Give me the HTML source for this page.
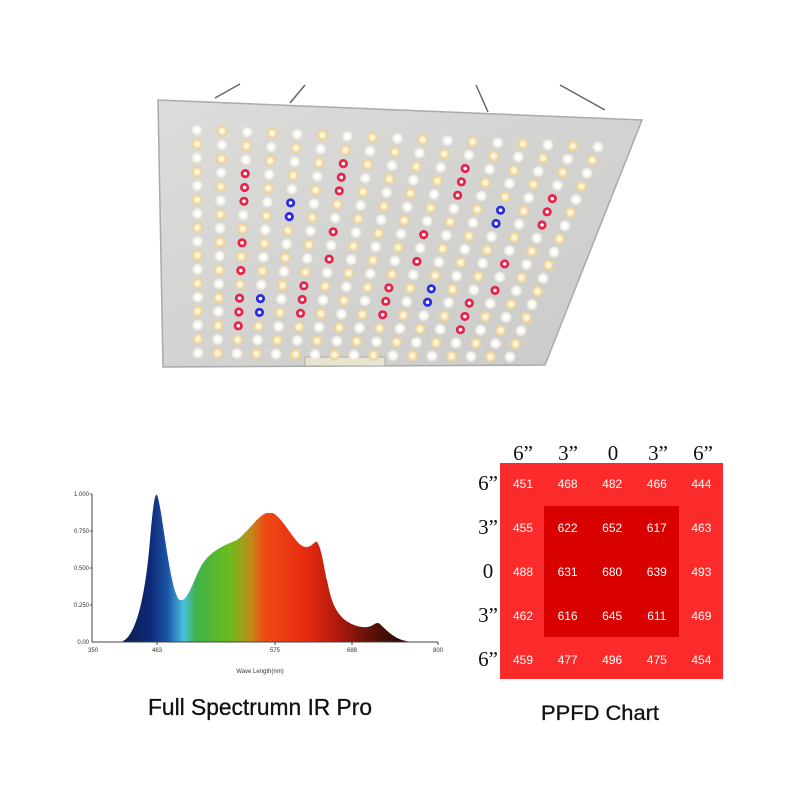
<!DOCTYPE html>
<html><head><meta charset="utf-8"><style>
html,body{margin:0;padding:0;background:#fff;}
svg{display:block;}
</style></head><body>
<svg id="s" width="800" height="800" viewBox="0 0 800 800" xmlns="http://www.w3.org/2000/svg" font-family="Liberation Sans, sans-serif">
<defs>
<linearGradient id="panel" x1="0" y1="0" x2="1" y2="1">
<stop offset="0" stop-color="#dcdcda"/><stop offset="1" stop-color="#cacac8"/>
</linearGradient>
<radialGradient id="gw"><stop offset="0.35" stop-color="#ffffff"/><stop offset="0.7" stop-color="#f2f0e6"/><stop offset="1" stop-color="#e0ded6"/></radialGradient>
<radialGradient id="gy"><stop offset="0.3" stop-color="#fff8e0"/><stop offset="0.7" stop-color="#f3d9a0"/><stop offset="1" stop-color="#e2cfa4"/></radialGradient>
<linearGradient id="spec" x1="92" y1="0" x2="438" y2="0" gradientUnits="userSpaceOnUse">
<stop offset="0.06" stop-color="#0a1a40"/>
<stop offset="0.17" stop-color="#0d2a78"/>
<stop offset="0.22" stop-color="#1e58a8"/>
<stop offset="0.265" stop-color="#48c0e0"/>
<stop offset="0.30" stop-color="#3fb24a"/>
<stop offset="0.40" stop-color="#6cbc1c"/>
<stop offset="0.46" stop-color="#c08a18"/>
<stop offset="0.50" stop-color="#ee4a14"/>
<stop offset="0.62" stop-color="#e82a10"/>
<stop offset="0.72" stop-color="#a8180c"/>
<stop offset="0.83" stop-color="#4a1008"/>
<stop offset="0.93" stop-color="#1a0604"/>
</linearGradient>
</defs>
<g stroke="#666" stroke-width="1.5" fill="none">
<line x1="215" y1="98" x2="240" y2="84"/>
<line x1="290" y1="103" x2="305" y2="85"/>
<line x1="476" y1="85" x2="488" y2="112"/>
<line x1="560" y1="85" x2="605" y2="110"/>
</g>
<polygon points="158,100 642,120 545,365 163,367" fill="url(#panel)" stroke="#aaa" stroke-width="1.5"/>
<rect x="305" y="357" width="80" height="9" fill="#e8e4d0" stroke="#aaa"/>
<g id="leds"></g>
<path d="M92,642 L120,642 C135,640 145,600 150,540 C153,505 155,492 157,495 C162,505 170,595 180,600 C188,603 195,575 203,563 C212,550 225,545 237,540 C250,530 258,515 267,513 L273,513 C285,520 295,545 305,547 C312,548 315,540 317,542 C322,548 325,575 327,580 C330,595 333,610 345,620 C352,625 360,628 368,627 C374,626 376,621 380,624 C386,630 393,637 402,640 L410,642 Z" fill="url(#spec)"/>
<g stroke="#444" stroke-width="1" fill="none">
<line x1="92" y1="642" x2="438" y2="642"/>
<line x1="92" y1="494" x2="92" y2="642"/>
<line x1="90" y1="494" x2="92" y2="494"/><line x1="90" y1="531" x2="92" y2="531"/><line x1="90" y1="568" x2="92" y2="568"/><line x1="90" y1="605" x2="92" y2="605"/>
<line x1="157" y1="642" x2="157" y2="645"/><line x1="275" y1="642" x2="275" y2="645"/><line x1="352" y1="642" x2="352" y2="645"/><line x1="438" y1="642" x2="438" y2="645"/>
</g>
<g font-size="6" fill="#333" text-anchor="end">
<text x="89" y="496">1.000</text><text x="89" y="533">0.750</text><text x="89" y="570">0.500</text><text x="89" y="607">0.250</text><text x="89" y="644">0.00</text>
</g>
<g font-size="6" fill="#333" text-anchor="middle">
<text x="93" y="652">350</text><text x="157" y="652">463</text><text x="275" y="652">575</text><text x="352" y="652">688</text><text x="438" y="652">800</text>
<text x="260" y="673">Wave Length(nm)</text>
</g>
<text x="148" y="715" font-size="23" fill="#111" stroke="#111" stroke-width="0.3" textLength="224" lengthAdjust="spacingAndGlyphs">Full Spectrumn IR Pro</text>
<rect x="500" y="463" width="223" height="216" fill="#fb2b2b"/>
<rect x="544" y="506" width="135" height="131" fill="#d90000"/>
<g id="ppfd" font-size="12" fill="#fff" text-anchor="middle"></g>
<g font-family="Liberation Serif, serif" font-size="21" fill="#111" text-anchor="middle">
<text x="523" y="460">6”</text><text x="568" y="460">3”</text><text x="613" y="460">0</text><text x="658" y="460">3”</text><text x="703" y="460">6”</text>
<text x="488" y="490">6”</text><text x="488" y="534">3”</text><text x="488" y="578">0</text><text x="488" y="622">3”</text><text x="488" y="666">6”</text>
</g>
<text x="541" y="720" font-size="21" fill="#111" stroke="#111" stroke-width="0.3" textLength="118" lengthAdjust="spacingAndGlyphs">PPFD Chart</text>
</svg>
<script>
var ns="http://www.w3.org/2000/svg";
var vals=[[451,468,482,466,444],[455,622,652,617,463],[488,631,680,639,493],[462,616,645,611,469],[459,477,496,475,454]];
var g=document.getElementById("ppfd");
for(var r=0;r<5;r++)for(var c=0;c<5;c++){var t=document.createElementNS(ns,"text");t.setAttribute("x",523+c*44.6);t.setAttribute("y",488+r*44);t.textContent=vals[r][c];g.appendChild(t);}
var L=document.getElementById("leds");
var TL=[197,130],TR=[598,147],BL=[198,353],BR=[510,357];
var special={};
function m(c,rs,col){rs.forEach(function(r){special[c+","+r]=col;});}
m(2,[3,4,5,8,10,12,13,14],"r");m(4,[5,6],"b");m(3,[12,13],"b");
m(6,[2,3,4],"r");m(6,[7,9],"r");m(5,[11,12,13],"r");
m(11,[2,3,4],"r");m(10,[7,9],"r");m(9,[11,12,13],"r");
m(13,[5,6],"b");m(11,[11,12],"b");
m(15,[4,5,6],"r");m(14,[9,11],"r");m(13,[12,13,14],"r");
for(var r=0;r<17;r++)for(var c=0;c<17;c++){
var u=c/16,v=r/16;
var x=(1-v)*((1-u)*TL[0]+u*TR[0])+v*((1-u)*BL[0]+u*BR[0]);
var y=(1-v)*((1-u)*TL[1]+u*TR[1])+v*((1-u)*BL[1]+u*BR[1]);
var s=special[c+","+r];
var e=document.createElementNS(ns,"circle");
e.setAttribute("cx",x);e.setAttribute("cy",y);e.setAttribute("r",s?4.6:5.6);
var col=s=="r"?"#e8234a":s=="b"?"#2a2ae0":((r+c)%2?"url(#gy)":"url(#gw)");
e.setAttribute("fill",col);L.appendChild(e);
if(s){var w=document.createElementNS(ns,"circle");w.setAttribute("cx",x);w.setAttribute("cy",y);w.setAttribute("r",1.8);w.setAttribute("fill","#fff");L.appendChild(w);}
}
</script>
</body></html>
